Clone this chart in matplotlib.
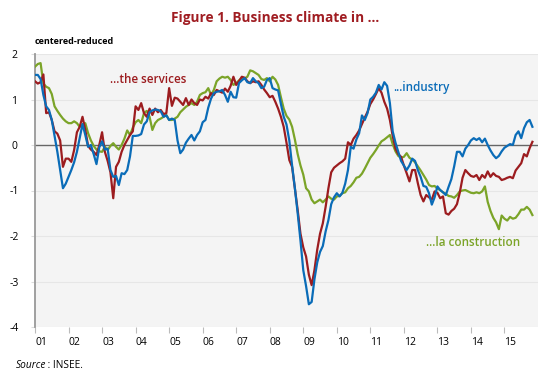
import numpy as np
import matplotlib
matplotlib.use("Agg")
import matplotlib.pyplot as plt

plt.rcParams["font.family"] = ["Open Sans", "DejaVu Sans"]

# monthly values, Jan 2001 -> Nov 2015
services = [
    1.40, 1.35, 1.38, 1.55, 0.70, 0.72, 0.55, 0.30, 0.25, 0.10, -0.48, -0.30,   # 2001
    -0.30, -0.37, -0.11, 0.28, 0.40, 0.62, 0.33, -0.02, -0.10, -0.15, -0.22, 0.00,   # 2002
    0.28, -0.15, -0.35, -0.60, -1.17, -0.48, -0.37, -0.15, 0.00, 0.11, 0.22, 0.30,   # 2003
    0.85, 0.77, 0.92, 0.70, 0.62, 0.80, 0.66, 0.80, 0.72, 0.77, 0.68, 0.70,   # 2004
    1.25, 0.86, 1.04, 1.02, 0.95, 0.88, 1.03, 0.88, 1.00, 0.92, 0.88, 1.00,   # 2005
    0.98, 1.06, 1.02, 1.14, 1.10, 1.21, 1.18, 1.15, 1.24, 1.17, 1.30, 1.50,   # 2006
    1.32, 1.40, 1.50, 1.48, 1.40, 1.36, 1.40, 1.38, 1.40, 1.32, 1.22, 1.14,   # 2007
    1.05, 1.08, 0.95, 0.80, 0.62, 0.40, 0.05, -0.33, -0.48, -0.95, -1.43, -1.95,   # 2008
    -2.25, -2.45, -2.85, -3.08, -2.75, -2.30, -1.95, -1.72, -1.36, -0.95, -0.60, -0.50,   # 2009
    -0.45, -0.40, -0.36, -0.30, 0.06, 0.00, 0.14, 0.22, 0.32, 0.46, 0.60, 0.73,   # 2010
    0.90, 1.00, 1.12, 1.25, 1.15, 0.95, 0.80, 0.55, 0.20, -0.08, -0.20, -0.26,   # 2011
    -0.45, -0.62, -0.80, -0.55, -0.55, -0.84, -1.10, -1.24, -1.10, -1.15, -1.20, -1.02,   # 2012
    -1.05, -1.17, -1.13, -1.50, -1.53, -1.45, -1.40, -1.30, -1.05, -0.72, -0.55, -0.62,   # 2013
    -0.68, -0.70, -0.66, -0.77, -0.66, -0.72, -0.58, -0.70, -0.62, -0.68, -0.70, -0.77,   # 2014
    -0.75, -0.72, -0.70, -0.73, -0.56, -0.48, -0.40, -0.20, -0.25, -0.07, 0.07,   # 2015
]

industry = [
    1.54, 1.54, 1.45, 1.10, 0.85, 0.77, 0.55, 0.20, -0.15, -0.55, -0.95, -0.85,   # 2001
    -0.70, -0.55, -0.38, -0.15, 0.15, 0.46, 0.22, -0.04, 0.00, -0.20, -0.42, -0.05,   # 2002
    0.08, -0.10, -0.08, -0.55, -0.70, -0.68, -0.88, -0.62, -0.64, -0.55, -0.25, 0.20,   # 2003
    0.20, 0.21, 0.24, 0.45, 0.52, 0.72, 0.76, 0.78, 0.77, 0.74, 0.62, 0.65,   # 2004
    0.55, 0.58, 0.55, 0.10, -0.18, -0.10, 0.05, 0.14, 0.22, 0.10, 0.22, 0.30,   # 2005
    0.50, 0.55, 0.82, 1.02, 1.14, 1.17, 1.18, 1.21, 1.10, 0.95, 1.17, 1.05,   # 2006
    1.04, 1.36, 1.42, 1.47, 1.38, 1.36, 1.47, 1.40, 1.36, 1.25, 1.28, 1.43,   # 2007
    1.47, 1.25, 1.22, 1.20, 0.90, 0.62, 0.45, 0.10, -0.45, -0.95, -1.50, -2.10,   # 2008
    -2.75, -3.10, -3.50, -3.45, -2.95, -2.58, -2.35, -2.22, -1.90, -1.65, -1.30, -1.15,   # 2009
    -1.06, -1.13, -1.05, -0.85, -0.55, -0.04, -0.08, 0.12, 0.26, 0.65, 0.55, 0.70,   # 2010
    1.00, 1.06, 1.15, 1.32, 1.22, 1.38, 1.30, 0.92, 0.30, 0.05, -0.15, -0.35,   # 2011
    -0.45, -0.55, -0.45, -0.30, -0.35, -0.55, -0.70, -0.90, -0.92, -1.06, -1.31, -1.15,   # 2012
    -0.91, -0.99, -1.04, -1.10, -0.92, -0.75, -0.47, -0.15, -0.15, -0.25, -0.08, 0.00,   # 2013
    0.10, 0.15, 0.11, 0.15, 0.06, 0.14, 0.00, -0.12, -0.22, -0.29, -0.24, -0.14,   # 2014
    -0.06, -0.02, 0.02, 0.00, 0.22, 0.30, 0.15, 0.37, 0.50, 0.55, 0.40,   # 2015
]

construction = [
    1.72, 1.78, 1.80, 1.35, 1.28, 1.25, 1.12, 0.85, 0.75, 0.66, 0.58, 0.52,   # 2001
    0.48, 0.48, 0.52, 0.48, 0.40, 0.45, 0.48, 0.26, 0.10, -0.02, -0.10, -0.14,   # 2002
    -0.15, -0.04, -0.11, -0.02, 0.04, -0.04, -0.10, 0.00, 0.14, 0.32, 0.22, 0.38,   # 2003
    0.50, 0.55, 0.48, 0.70, 0.75, 0.62, 0.33, 0.48, 0.55, 0.58, 0.62, 0.66,   # 2004
    0.55, 0.55, 0.58, 0.62, 0.72, 0.78, 0.84, 0.88, 0.92, 0.88, 0.95, 1.10,   # 2005
    1.14, 1.16, 1.25, 1.10, 1.21, 1.40, 1.46, 1.50, 1.48, 1.50, 1.43, 1.32,   # 2006
    1.36, 1.42, 1.47, 1.46, 1.50, 1.64, 1.62, 1.58, 1.54, 1.45, 1.43, 1.47,   # 2007
    1.40, 1.50, 1.44, 1.32, 1.05, 0.80, 0.64, 0.56, 0.40, 0.12, -0.20, -0.45,   # 2008
    -0.65, -0.95, -1.02, -1.20, -1.28, -1.24, -1.20, -1.26, -1.20, -1.13, -1.18, -1.20,   # 2009
    -1.13, -1.12, -1.06, -1.04, -0.95, -0.90, -0.82, -0.72, -0.70, -0.63, -0.52, -0.40,   # 2010
    -0.28, -0.20, -0.11, -0.01, 0.08, 0.12, 0.17, 0.22, 0.02, -0.14, -0.24, -0.28,   # 2011
    -0.26, -0.18, -0.28, -0.32, -0.38, -0.47, -0.56, -0.66, -0.76, -0.88, -0.91, -0.90,   # 2012
    -0.96, -0.99, -1.04, -1.07, -1.12, -1.13, -1.16, -1.10, -1.02, -1.00, -0.99, -1.02,   # 2013
    -1.05, -1.06, -1.04, -1.06, -1.02, -0.91, -1.25, -1.45, -1.60, -1.70, -1.85, -1.55,   # 2014
    -1.62, -1.66, -1.58, -1.62, -1.60, -1.52, -1.42, -1.42, -1.36, -1.42, -1.54,   # 2015
]

years = list(range(2001, 2016))
year_labels = ["%02d" % (y % 100) for y in years]

c_red = "#9c1c1f"
c_blue = "#0a6cb8"
c_green = "#7ba428"

t = 2001 + np.arange(len(services)) / 12.0

fig = plt.figure(figsize=(5.5, 3.82), dpi=100)
ax = fig.add_axes([35 / 550, 55 / 382, 503 / 550, 273 / 382])
ax.set_facecolor("#f4f4f4")

for v in [2, 1, -1, -2, -3, -4]:
    ax.axhline(v, color="#e6e6e6", lw=0.8, zorder=1)
ax.axhline(0, color="#666666", lw=1.0, zorder=2)

ax.plot(t, construction, color=c_green, lw=1.6, zorder=3)
ax.plot(t, services, color=c_red, lw=1.6, zorder=4)
ax.plot(t, industry, color=c_blue, lw=1.6, zorder=5)

ax.set_xlim(2001, 2016)
ax.set_ylim(-4, 2)
ax.set_yticks([2, 1, 0, -1, -2, -3, -4])
ax.set_yticklabels(["2", "1", "0", "-1", "-2", "-3", "-4"], fontsize=7.5)
ax.set_xticks(years)
ax.set_xticklabels(year_labels, fontsize=7.5, ha="left")
ax.tick_params(axis="x", length=4, color="#bbbbbb", pad=3)
ax.tick_params(axis="y", length=3, color="#dddddd")
for lab in ax.get_yticklabels():
    lab.set_horizontalalignment("center")
ax.yaxis.set_tick_params(pad=12)

for s in ["top", "right", "bottom"]:
    ax.spines[s].set_visible(False)
ax.spines["left"].set_color("#999999")
ax.spines["left"].set_linewidth(1.3)

ax.text(2003.25, 1.45, "...the services", color=c_red, fontsize=8.4,
        fontweight="semibold", va="center")
ax.text(2011.67, 1.27, "...industry", color=c_blue, fontsize=8.4,
        fontweight="semibold", va="center")
ax.text(2012.66, -2.15, "...la construction", color=c_green, fontsize=8.4,
        fontweight="semibold", va="center")

fig.text(0.5, 0.953, "Figure 1. Business climate in \u2026", ha="center", va="center",
         color="#a01d22", fontsize=9.8, fontweight="bold")
fig.text(35 / 550, 1 - 41 / 382, "centered-reduced", ha="left", va="center",
         fontsize=6.5, fontweight="bold")
fig.text(16 / 550, 1 - 365 / 382, "Source", ha="left", va="center", fontsize=7.3, style="italic")
fig.text(45 / 550, 1 - 365 / 382, " : INSEE.", ha="left", va="center", fontsize=7.3)

fig.savefig("out.png", dpi=100)
